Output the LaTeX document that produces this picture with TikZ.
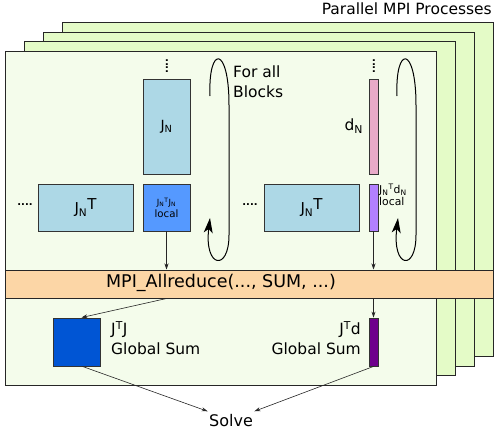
\documentclass[tikz,border=0pt]{standalone}
\usepackage{fontspec}
\setmainfont{DejaVu Sans}
\usetikzlibrary{arrows.meta,positioning}

\definecolor{frontgreen}{RGB}{244,252,235}
\definecolor{backgreen}{RGB}{228,251,199}
\definecolor{reduceorange}{RGB}{252,214,166}
\definecolor{blocklblue}{RGB}{173,216,230}
\definecolor{localblue}{RGB}{85,153,255}
\definecolor{globalblue}{RGB}{0,85,212}
\definecolor{dnpink}{RGB}{232,170,200}
\definecolor{localpurple}{RGB}{178,128,255}
\definecolor{globalpurple}{RGB}{110,0,140}

\tikzset{
  block/.style={draw=black!80, line width=0.9pt, inner sep=0pt},
  frame/.style={draw=black!85, line width=1pt},
  smallarrow/.style={-{Stealth[length=6pt,width=4pt]}, line width=0.6pt, black!85},
  looparrow/.style={-{Stealth[length=15pt,width=9pt,inset=4pt]}, line width=1pt}
}

\begin{document}
\begin{tikzpicture}[x=1pt,y=-1pt]
				\useasboundingbox (0,0) rectangle (499,432);
				
				% stacked processes
				\draw[frame, fill=backgreen] (62,22) rectangle (493,356);
				\draw[frame, fill=backgreen] (43,32) rectangle (474,366);
				\draw[frame, fill=backgreen] (24,41) rectangle (455,375);
				\draw[frame, fill=frontgreen] (5,51) rectangle (436,385);
				\node[anchor=north east, inner sep=1pt, font=\fontsize{15.5}{17}\selectfont] (title) at (493,2) {Parallel MPI Processes};
				
				% left column: J
				\node[block, fill=blocklblue, minimum width=47pt, minimum height=95pt] (jn) at (166.5,126.5) {\fontsize{14}{16}\selectfont J\textsubscript{N}};
				\node[rotate=90, font=\bfseries] (jndots) at (167,66) {....};
				\node[block, fill=blocklblue, minimum width=95pt, minimum height=47pt] (jnt) at (85.5,207.5) {\fontsize{15}{17}\selectfont J\textsubscript{N}\raisebox{0.55ex}{T}};
				\node[font=\bfseries] (jntdots) at (25,205) {....};
				\node[block, fill=localblue, minimum width=47pt, minimum height=47pt, align=center, font=\fontsize{10.2}{12}\selectfont] (jtjlocal) at (166.5,207.5) {{\fontsize{8.5}{9}\selectfont J\textsubscript{N}\textsuperscript{T}J\textsubscript{N}}\\local};
				
				% right column: d
				\node[block, fill=dnpink, minimum width=9pt, minimum height=95pt] (dn) at (373.5,126.5) {};
				\node[left=2pt of dn, font=\fontsize{15.5}{17}\selectfont] (dnlabel) {d\textsubscript{N}};
				\node[rotate=90, font=\bfseries] (dndots) at (374,66) {....};
				\node[block, fill=blocklblue, minimum width=95pt, minimum height=47pt] (jntr) at (311.5,207.5) {\fontsize{15}{17}\selectfont J\textsubscript{N}\raisebox{0.55ex}{T}};
				\node[font=\bfseries] (jntrdots) at (250,205) {....};
				\node[block, fill=localpurple, minimum width=9pt, minimum height=47pt] (jtdlocal) at (373.5,207.5) {};
				\node[anchor=north west, align=left, inner sep=0pt, font=\fontsize{10.8}{12}\selectfont] (jtdlabel) at (379,184) {J\textsubscript{N}\textsuperscript{T}d\textsubscript{N}\\local};
				
				% loops over the blocks
				\node[anchor=north west, align=left, inner sep=0pt, font=\fontsize{15.5}{19.5}\selectfont] (forall) at (233,66) {For all\\Blocks};
				\draw[looparrow] (210,96) .. controls (208,45) and (229,45) .. (229,105) -- (229,235) .. controls (229,272) and (204,268) .. (210,218);
				\draw[looparrow] (397,96) .. controls (395,45) and (416,45) .. (416,105) -- (416,235) .. controls (416,272) and (392,268) .. (398,218);
				
				% reduction
				\node[frame, fill=reduceorange, minimum width=488pt, minimum height=28pt, inner sep=0pt] (reduce) at (249,284) {};
				\node[font=\fontsize{17.5}{19}\selectfont] (reducelabel) at (221,283) {MPI\_Allreduce(..., SUM, ...)};
				\draw[smallarrow] (jtjlocal.south) -- (jtjlocal |- reduce.north);
				\draw[smallarrow] (jtdlocal.south) -- (jtdlocal |- reduce.north);
				
				% global sums
				\node[block, fill=globalblue, minimum width=47pt, minimum height=48pt] (jtjglobal) at (76.5,342) {};
				\node[anchor=north west, align=left, inner sep=0pt, font=\fontsize{15.5}{20}\selectfont] (jtjlabel) at (111,321) {J\textsuperscript{T}J\\Global Sum};
				\node[block, fill=globalpurple, minimum width=9pt, minimum height=48pt] (jtdglobal) at (373.5,342) {};
				\node[anchor=north east, align=right, inner sep=0pt, font=\fontsize{15.5}{20}\selectfont] (jtdgloblabel) at (361,321) {J\textsuperscript{T}d\\Global Sum};
				\draw[smallarrow] (jtjlocal |- reduce.south) -- ([xshift=5pt]jtjglobal.north);
				\draw[smallarrow] (jtdlocal |- reduce.south) -- (jtdglobal.north);
				
				% solve
				\node[font=\fontsize{16}{18}\selectfont] (solve) at (231,421) {Solve};
				\draw[smallarrow] ([xshift=6pt]jtjglobal.south) -- ([xshift=2pt]solve.north west);
				\draw[smallarrow] (jtdglobal.south) -- ([xshift=-2pt]solve.north east);
			\end{tikzpicture}
\end{document}
